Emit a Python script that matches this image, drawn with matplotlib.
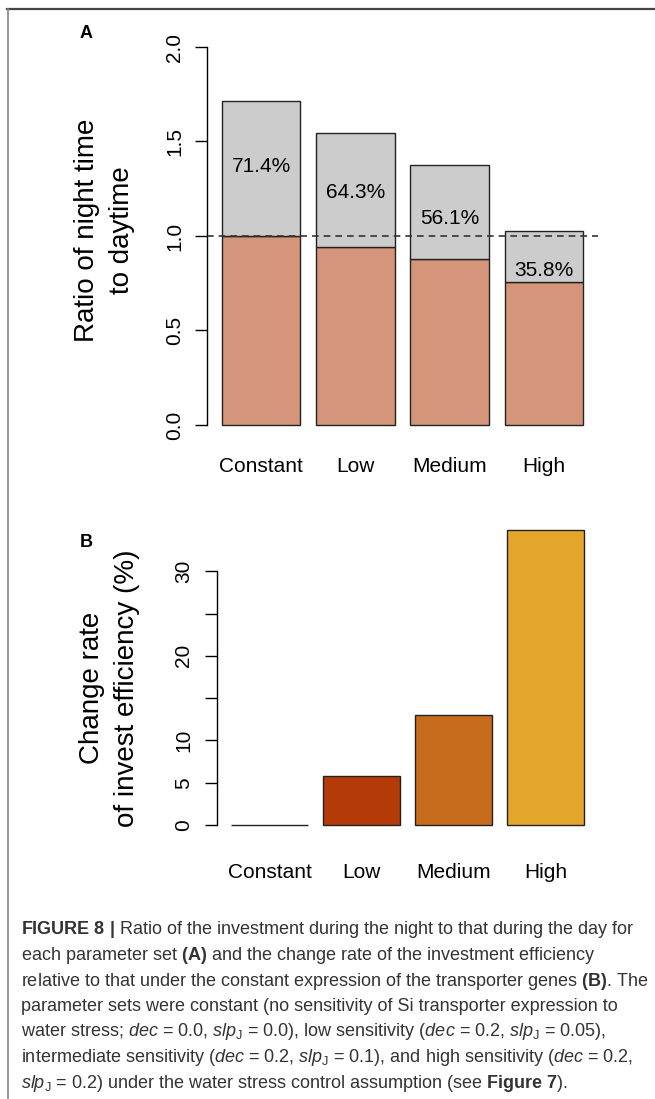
"""
Night/day investment ratio and investment efficiency change
for the four Si transporter sensitivity parameter sets.

Output:
    out.png
"""

import numpy as np
import matplotlib

matplotlib.use("Agg")
import matplotlib.pyplot as plt
from matplotlib.lines import Line2D
from matplotlib.transforms import blended_transform_factory


# ---------------------------------------------------------------------
# Data
# ---------------------------------------------------------------------
CATEGORIES = ["Constant", "Low", "Medium", "High"]

# Panel A: daytime part (=1 for constant) and night share in percent
DAY_RATIO = [1.00, 0.94, 0.88, 0.755]
NIGHT_SHARE_PCT = [71.4, 64.3, 56.1, 35.8]

# Panel B: change rate of invest efficiency (%)
EFFICIENCY_CHANGE = [0.0, 5.8, 13.0, 34.9]

A_YTICKS = [0.0, 0.5, 1.0, 1.5, 2.0]
B_YTICKS = [0, 5, 10, 15, 20, 25, 30]
B_YTICKLABELS = ["0", "5", "10", "", "20", "", "30"]

# y position of the percent labels inside the grey segments
PCT_LABEL_Y = [1.365, 1.229, 1.095, 0.816]

DEC = r"$\mathit{dec}$"
SLP = r"$\mathit{slp}_\mathrm{J}$"
CAPTION_LINES = [
    r"$\mathbf{FIGURE\ 8\ |}$ Ratio of the investment during the night to that during the day for",
    r"each parameter set $\mathbf{(A)}$ and the change rate of the investment efficiency",
    r"relative to that under the constant expression of the transporter genes $\mathbf{(B)}$. The",
    r"parameter sets were constant (no sensitivity of Si transporter expression to",
    f"water stress; {DEC} = 0.0, {SLP} = 0.0), low sensitivity ({DEC} = 0.2, {SLP} = 0.05),",
    f"intermediate sensitivity ({DEC} = 0.2, {SLP} = 0.1), and high sensitivity ({DEC} = 0.2,",
    f"{SLP} = 0.2) under the water stress control assumption (see " + r"$\mathbf{Figure\ 7}$).",
]

# ---------------------------------------------------------------------
# Style
# ---------------------------------------------------------------------
W, H = 655, 1099
FONT = "Liberation Sans"
GREY = "#cccccc"
DAY_COLOR = "#d4957b"
B_COLORS = ["#ffffff", "#b43a08", "#c66b1b", "#e4a52b"]
EDGE = "#222222"

plt.rcParams["font.family"] = [FONT, "DejaVu Sans"]
plt.rcParams["mathtext.fontset"] = "custom"
plt.rcParams["mathtext.rm"] = FONT
plt.rcParams["mathtext.it"] = FONT + ":italic"
plt.rcParams["mathtext.bf"] = FONT + ":bold"


def px_axes(fig, left, top, right, bottom):
    """Add axes given in pixel coordinates measured from the top-left."""
    return fig.add_axes([left / W, 1 - bottom / H, (right - left) / W, (bottom - top) / H])


def fy(y):
    """Pixel row (from top) to figure fraction."""
    return 1 - y / H


def style_axis(ax, ticks, labels):
    for side in ("top", "right", "bottom"):
        ax.spines[side].set_visible(False)
    ax.spines["left"].set_bounds(ticks[0], ticks[-1])
    ax.spines["left"].set_linewidth(1.0)
    ax.set_yticks(ticks, labels)
    ax.set_xticks([])
    ax.tick_params(axis="y", direction="out", length=9, width=1.0,
                   labelsize=15, pad=8, labelrotation=90)
    for lab in ax.get_yticklabels():
        lab.set_va("center")


def ylabel_lines(fig, lines, baselines_x, center_y):
    """Two-line rotated axis title, one text per line."""
    for text, bx in zip(lines, baselines_x):
        fig.text(bx / W, fy(center_y), text, rotation=90, rotation_mode="anchor",
                 ha="center", va="baseline", fontsize=20)


fig = plt.figure(figsize=(W / 100, H / 100), dpi=100)

x = 0.7 + 1.2 * np.arange(len(CATEGORIES))
xlim = (0.2 - 0.184, 4.8 + 0.184)

# ---------------------------------------------------------------------
# Panel A
# ---------------------------------------------------------------------
day = np.array(DAY_RATIO)
night = day * np.array(NIGHT_SHARE_PCT) / 100.0

ax_a = px_axes(fig, 207.5, 31.9, 597.5, 440)
ax_a.bar(x, day, width=1.0, color=DAY_COLOR, edgecolor=EDGE, linewidth=1.0)
ax_a.bar(x, night, width=1.0, bottom=day, color=GREY, edgecolor=EDGE, linewidth=1.0)
ax_a.axhline(1.0, color="#333333", linewidth=1.2, linestyle=(0, (4, 3)))
for xi, pct, yl in zip(x, NIGHT_SHARE_PCT, PCT_LABEL_Y):
    ax_a.text(xi, yl, f"{pct:.1f}%", ha="center", va="center", fontsize=15)
ax_a.set_xlim(*xlim)
ax_a.set_ylim(-0.08, 2.08)
style_axis(ax_a, A_YTICKS, [f"{t:.1f}" for t in A_YTICKS])

trans_a = blended_transform_factory(ax_a.transData, fig.transFigure)
for xi, cat in zip(x, CATEGORIES):
    ax_a.text(xi, fy(472), cat, transform=trans_a, ha="center", va="baseline", fontsize=15)

ylabel_lines(fig, ["Ratio of night time", "to daytime"], [94, 129], 230)
fig.text(86 / W, fy(33), "A", ha="center", va="center", fontsize=13, fontweight="bold")

# ---------------------------------------------------------------------
# Panel B
# ---------------------------------------------------------------------
eff = np.array(EFFICIENCY_CHANGE)
top_b = eff.max()

ax_b = px_axes(fig, 217, 518, 598, 836.8)
ax_b.bar(x, eff, width=1.0, color=B_COLORS, edgecolor=EDGE, linewidth=1.0)
ax_b.set_xlim(*xlim)
ax_b.set_ylim(-0.04 * top_b, 1.04 * top_b)
style_axis(ax_b, B_YTICKS, B_YTICKLABELS)

trans_b = blended_transform_factory(ax_b.transData, fig.transFigure)
for xi, cat in zip(x, CATEGORIES):
    ax_b.text(xi, fy(878), cat, transform=trans_b, ha="center", va="baseline", fontsize=15)

ylabel_lines(fig, ["Change rate", "of invest efficiency (%)"], [99, 134], 688)
fig.text(86 / W, fy(543), "B", ha="center", va="center", fontsize=13, fontweight="bold")

# ---------------------------------------------------------------------
# Caption and frame
# ---------------------------------------------------------------------
for i, line in enumerate(CAPTION_LINES):
    fig.text(21 / W, fy(930 + 25.5 * i), line, ha="left", va="center",
             fontsize=13, color="#333333")

fig.add_artist(Line2D([7 / W, 1.0], [fy(9), fy(9)], transform=fig.transFigure,
                      color="#444444", linewidth=1.6))
fig.add_artist(Line2D([7.5 / W, 7.5 / W], [fy(9), 0.0], transform=fig.transFigure,
                      color="#888888", linewidth=1.2))

fig.savefig("out.png", dpi=100)
plt.close(fig)
